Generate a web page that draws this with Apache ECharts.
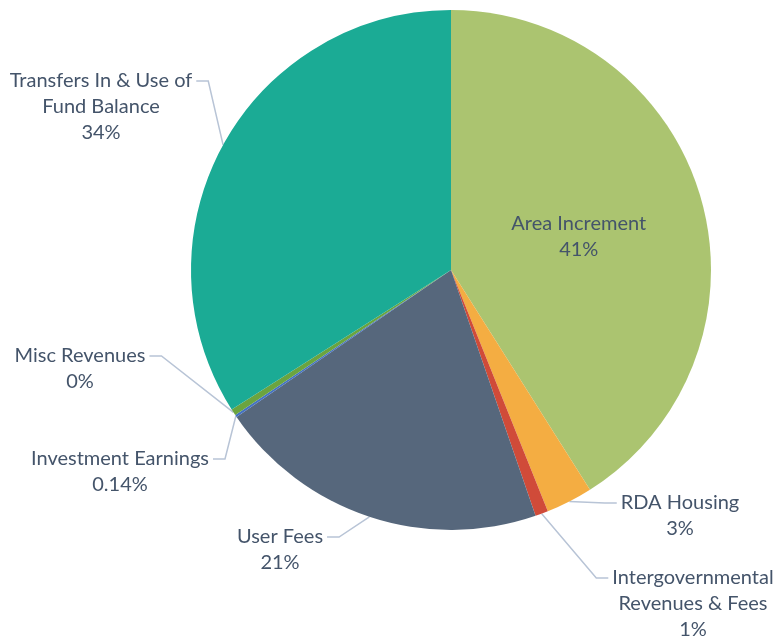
<!DOCTYPE html>
<html style="height: 100%">
<head>
    <meta charset="UTF-8">
    <title>Revenue Sources</title>
    <script src="https://cdn.jsdelivr.net/npm/echarts@6/dist/echarts.min.js"></script>
</head>
<body style="height: 100%; margin: 0; background: #fff">
    <div id="main" style="width: 777px; height: 640px"></div>
    <script type="text/javascript">
        // categories, clockwise from 12 o'clock
        var categories = [
            'Area Increment',
            'RDA Housing',
            'Intergovernmental\nRevenues & Fees',
            'User Fees',
            'Investment Earnings',
            'Misc Revenues',
            'Transfers In & Use of\nFund Balance'
        ];
        // share of total, percent
        var shares = [41.0, 2.9, 0.8, 20.7, 0.14, 0.4, 34.0];
        // percent text as printed on the chart
        var shareLabels = ['41%', '3%', '1%', '21%', '0.14%', '0%', '34%'];
        var colors = ['#ABC470', '#F4AD42', '#D04B39', '#56677C', '#4472C4', '#6BA43F', '#1BAB95'];

        // where the outside labels sit: [text centre x, first line centre y, side]
        var labelSpots = {
            'RDA Housing': [680, 503, 'right'],
            'Intergovernmental\nRevenues & Fees': [693, 578, 'right'],
            'User Fees': [280, 537, 'left'],
            'Investment Earnings': [120, 459, 'left'],
            'Misc Revenues': [80, 356, 'left'],
            'Transfers In & Use of\nFund Balance': [101, 81, 'left']
        };

        var LINE_H = 26;
        var myChart = echarts.init(document.getElementById('main'));

        var option = {
            color: colors,
            animation: false,
            textStyle: { fontFamily: 'Lato' },
            series: [{
                type: 'pie',
                center: [451, 270],
                radius: 260,
                startAngle: 90,
                clockwise: true,
                itemStyle: { borderWidth: 0 },
                label: {
                    show: true,
                    color: '#44546A',
                    fontSize: 20,
                    lineHeight: LINE_H,
                    align: 'center',
                    overflow: 'none',
                    formatter: function (p) {
                        return p.name + '\n' + shareLabels[p.dataIndex];
                    }
                },
                labelLine: {
                    show: true,
                    lineStyle: { color: '#B8C4D6', width: 1.5 }
                },
                labelLayout: function (params) {
                    var spot = labelSpots[categories[params.dataIndex]];
                    if (!spot) return { dy: 4 };
                    var w = params.labelRect.width;
                    var endX = spot[2] === 'left' ? spot[0] + w / 2 + 4 : spot[0] - w / 2 - 4;
                    var elbowX = spot[2] === 'left' ? endX + 12 : endX - 12;
                    var start = params.labelLinePoints ? params.labelLinePoints[0] : [elbowX, spot[1]];
                    return {
                        x: spot[0],
                        y: spot[1] - LINE_H / 2,
                        align: 'center',
                        verticalAlign: 'top',
                        labelLinePoints: [start, [elbowX, spot[1]], [endX, spot[1]]]
                    };
                },
                data: categories.map(function (c, i) {
                    var d = { name: c, value: shares[i] };
                    if (i === 0) {
                        d.label = { position: 'inside' };
                        d.labelLine = { show: false };
                    }
                    return d;
                })
            }]
        };

        myChart.setOption(option);
    </script>
</body>
</html>
